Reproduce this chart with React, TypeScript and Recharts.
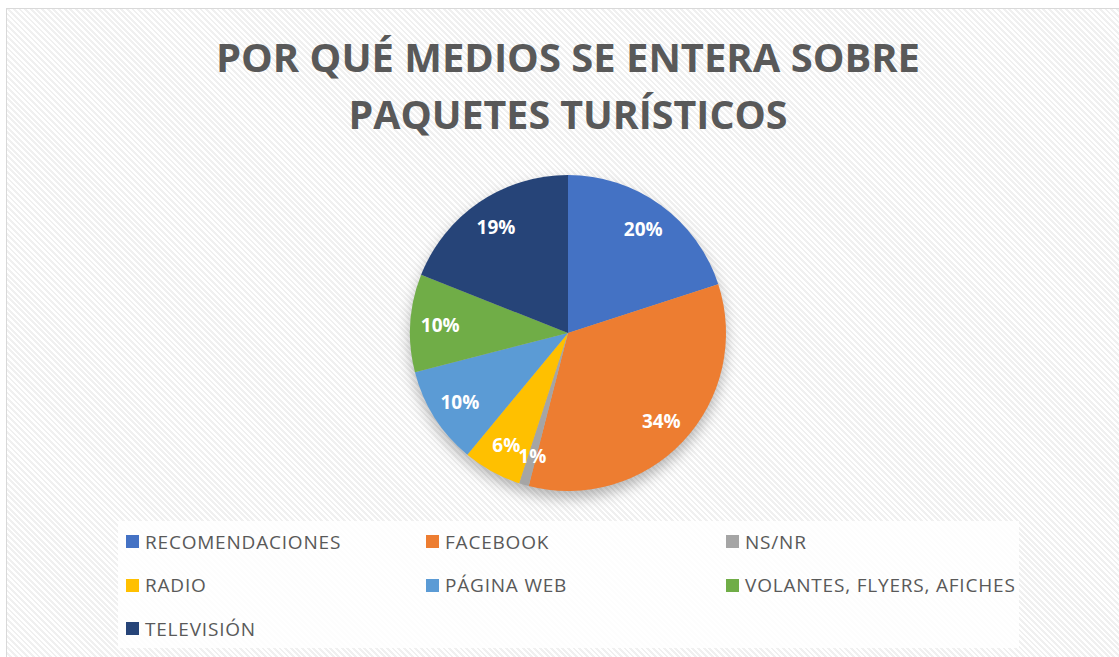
import { PieChart, Pie, Cell, Legend } from 'recharts'

const categories = [
  'RECOMENDACIONES',
  'FACEBOOK',
  'NS/NR',
  'RADIO',
  'PÁGINA WEB',
  'VOLANTES, FLYERS, AFICHES',
  'TELEVISIÓN',
]
const percentages = [20, 34, 1, 6, 10, 10, 19]
const colors = ['#4472c4', '#ed7d31', '#a5a5a5', '#ffc000', '#5b9bd5', '#70ad47', '#264478']
const titleLines = ['POR QUÉ MEDIOS SE ENTERA SOBRE', 'PAQUETES TURÍSTICOS']

const data = categories.map((name, i) => ({ name, value: percentages[i], color: colors[i] }))
const shadowData = [{ name: 'sombra', value: 100 }]

const RAD = Math.PI / 180
const CX = 562
const CY = 325
const R = 158

const renderLabel = (props: any) => {
  const { cx, cy, midAngle, value } = props
  const r = 128
  const x = cx + r * Math.cos(-midAngle * RAD)
  const y = cy + r * Math.sin(-midAngle * RAD)
  return (
    <text
      x={x}
      y={y}
      fill="#ffffff"
      textAnchor="middle"
      dominantBaseline="central"
      style={{ fontFamily: '"Open Sans", sans-serif', fontWeight: 700, fontSize: 19 }}
    >
      {`${value}%`}
    </text>
  )
}

const renderLegend = () => (
  <div
    style={{
      display: 'grid',
      gridTemplateColumns: '300px 300px 300px',
      paddingLeft: 9,
      paddingTop: 0,
      fontFamily: '"Open Sans", sans-serif',
      fontSize: 19,
      letterSpacing: 0.8,
      color: '#595959',
    }}
  >
    {data.map((d) => (
      <div key={d.name} style={{ display: 'flex', alignItems: 'center', height: 43.5 }}>
        <span style={{ width: 13, height: 13, background: d.color, marginRight: 6, display: 'inline-block' }} />
        <span>{d.name}</span>
      </div>
    ))}
  </div>
)

export default function App() {
  return (
    <div
      style={{
        position: 'fixed',
        left: 6,
        top: 8,
        width: 1113,
        height: 649,
        overflow: 'hidden',
        borderLeft: '1px solid #d9d9d9',
        borderTop: '1px solid #d9d9d9',
        boxSizing: 'border-box',
        background: 'repeating-linear-gradient(45deg, #ffffff 0px, #ffffff 2px, #f0f0f0 2px, #f0f0f0 4px)',
      }}
    >
      <div
        style={{
          position: 'absolute',
          left: 111,
          top: 512,
          width: 901,
          height: 127,
          background: 'rgba(255,255,255,0.85)',
        }}
      />
      <PieChart
        width={1113}
        height={649}
        margin={{ top: 0, right: 0, bottom: 0, left: 0 }}
        style={{ position: 'absolute', left: -1, top: -1 }}
      >
        <defs>
          <filter id="pieShadow" x="-30%" y="-30%" width="160%" height="160%">
            <feGaussianBlur stdDeviation="7" />
          </filter>
        </defs>
        {titleLines.map((t, i) => (
          <text
            key={t}
            x={562}
            y={64 + i * 57}
            textAnchor="middle"
            fill="#595959"
            textLength={i === 0 ? 704 : 439}
            lengthAdjust="spacingAndGlyphs"
            style={{ fontFamily: '"Open Sans", sans-serif', fontWeight: 700, fontSize: 40 }}
          >
            {t}
          </text>
        ))}
        <Pie
          data={shadowData}
          dataKey="value"
          cx={CX}
          cy={CY + 7}
          outerRadius={R}
          startAngle={90}
          endAngle={-270}
          stroke="none"
          fill="#000000"
          fillOpacity={0.28}
          filter="url(#pieShadow)"
          legendType="none"
          isAnimationActive={false}
        />
        <Pie
          data={data}
          dataKey="value"
          nameKey="name"
          cx={CX}
          cy={CY}
          outerRadius={R}
          startAngle={90}
          endAngle={-270}
          stroke="none"
          label={renderLabel}
          labelLine={false}
          isAnimationActive={false}
        >
          {data.map((d) => (
            <Cell key={d.name} fill={d.color} />
          ))}
        </Pie>
        <Legend
          content={renderLegend}
          wrapperStyle={{ position: 'absolute', left: 111, top: 512, width: 901, height: 127 }}
        />
      </PieChart>
    </div>
  )
}
